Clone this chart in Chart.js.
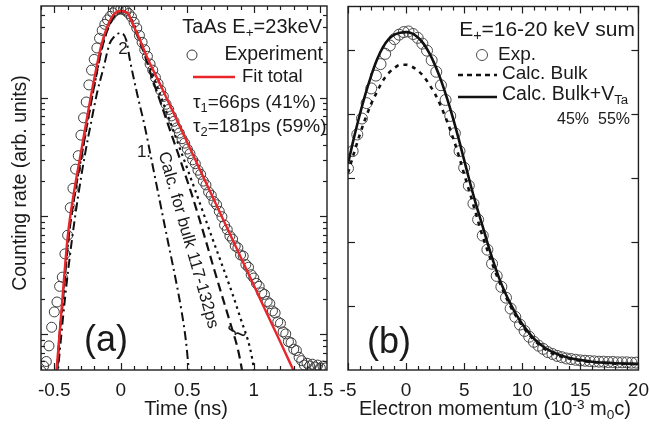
<!DOCTYPE html>
<html>
<head>
<meta charset="utf-8">
<script src="https://cdn.jsdelivr.net/npm/chart.js"></script>
<style>
  html, body { margin:0; padding:0; background:#fff; }
  body { width:650px; height:427px; overflow:hidden; font-family:"Liberation Sans", Arial, sans-serif; color:#1a1a1a; }
  #wrap { position:relative; width:650px; height:427px; }
  canvas { position:absolute; left:0; top:0; }
  .t { position:absolute; white-space:nowrap; line-height:1; color:#1a1a1a; }
  .t sub { font-size:0.68em; vertical-align:-0.28em; line-height:0; }
  .t sup { font-size:0.68em; vertical-align:0.45em; line-height:0; }
  svg { position:absolute; left:0; top:0; }
</style>
</head>
<body>
<div id="wrap">
  <canvas id="ca" width="650" height="427"></canvas>
  <canvas id="cb" width="650" height="427"></canvas>
  <svg id="sym" width="650" height="427"></svg>
</div>
<script>
// ---------------- Panel (a): positron lifetime spectrum ----------------
const timeExp = [-0.60,-0.58,-0.56,-0.54,-0.52,-0.50,-0.48,-0.46,-0.44,-0.42,
  -0.40,-0.38,-0.36,-0.34,-0.32,-0.30,-0.28,-0.26,-0.24,-0.22,
  -0.20,-0.18,-0.16,-0.14,-0.12,-0.10,-0.08,-0.06,-0.04,-0.02,
  0.00,0.02,0.04,0.06,0.08,0.10,0.12,0.14,0.16,0.18,
  0.20,0.22,0.24,0.26,0.28,0.30,0.32,0.34,0.36,0.38,
  0.40,0.42,0.44,0.46,0.48,0.50,0.52,0.54,0.56,0.58,
  0.60,0.62,0.64,0.66,0.68,0.70,0.72,0.74,0.76,0.78,
  0.80,0.82,0.84,0.86,0.88,0.90,0.92,0.94,0.96,0.98,
  1.00,1.02,1.04,1.06,1.08,1.10,1.12,1.14,1.16,1.18,
  1.20,1.22,1.24,1.26,1.28,1.30,1.32,1.34,1.36,1.38,
  1.40,1.42,1.44,1.46,1.48,1.50,1.52,1.54];
const countsExp = [4.9,5.4,5.9,8.0,11.5,15.5,18.8,25.5,30.5,48,
  69,118,172,250,325,485,680,925,1290,1720,
  2120,2650,3200,3730,4200,4580,4900,5250,5480,5610,
  5670,5590,5440,5180,4850,4360,3900,3380,2960,2560,
  2250,1940,1720,1490,1320,1160,1030,885,800,705,
  635,558,505,452,415,370,338,300,278,245,
  226,198,184,160,150,133,125,110,99,84,
  77,68,64,56,54,47,46,39,37,32,
  30,27,25.5,22.5,21.8,19,18.2,15.8,15.2,12.8,
  12.4,10.5,10.1,8.7,8.5,7.5,7.3,6.4,6.0,5.5,
  5.7,5.4,5.6,5.3,5.5,5.2,5.4,5.2];

const timeFit   = [-0.50,-0.45,-0.40,-0.35,-0.30,-0.25,-0.20,-0.15,-0.10,-0.05,0.00,0.05,0.10,0.15,0.20,0.30,0.40,0.50,0.60,0.70,0.80,0.90,1.00,1.10,1.20,1.30,1.35];
const countsFit = [2.95,14,66,165,344,721,1452,2704,4064,5130,5445,5236,3980,2979,2175,1274,731,420,240,138,79,45.4,26,14.9,8.6,4.9,3.7];

// curve "1" (dash-dot)
const timeC1   = [-0.48,-0.46,-0.42,-0.37,-0.32,-0.27,-0.22,-0.175,-0.13,-0.085,-0.05,0.00,0.04,0.07,0.126,0.179,0.232,0.292,0.353,0.413,0.458,0.489,0.511,0.53];
const countsC1 = [4,7,20,60,150,330,650,1150,1800,2865,3300,3550,3100,2050,1045,582,295,136,62,29,15.4,8.9,5,3];

// calculated bulk spectra 117 ps (dashed) and 132 ps (dotted)
const timeB117   = [-0.49,-0.46,-0.44,-0.39,-0.34,-0.29,-0.24,-0.19,-0.14,-0.09,-0.04,0.01,0.06,0.119,0.18,0.232,0.292,0.353,0.436,0.534,0.594,0.647,0.70,0.76,0.821,0.881,0.911,0.94];
const countsB117 = [3,10,17,70,170,350,730,1450,2700,4050,5100,5420,5000,3480,2300,1510,966,606,325,152,92,57.7,36,21.4,12.7,7.4,5,3.2];
const timeB132   = [-0.49,-0.46,-0.44,-0.39,-0.34,-0.29,-0.24,-0.19,-0.14,-0.09,-0.04,0.01,0.06,0.142,0.217,0.292,0.406,0.504,0.594,0.67,0.76,0.843,0.896,0.972,1.00,1.03];
const countsB132 = [3,10,17,70,170,350,730,1450,2700,4050,5100,5420,5100,3160,1862,1096,490,245,129,74,39,21.4,14.1,7.6,5.2,3.4];

// ---------------- Panel (b): Doppler broadening (electron momentum) ----------------
const momExp = [-5.0,-4.6,-4.2,-3.8,-3.4,-3.0,-2.6,-2.2,-1.8,-1.4,
  -1.0,-0.6,-0.2,0.2,0.6,1.0,1.4,1.8,2.2,2.6,
  3.0,3.4,3.8,4.2,4.6,5.0,5.4,5.8,6.2,6.6,
  7.0,7.4,7.8,8.2,8.6,9.0,9.4,9.8,10.2,10.6,
  11.0,11.4,11.8,12.2,12.6,13.0,13.4,13.8,14.2,14.6,
  15.0,15.4,15.8,16.2,16.6,17.0,17.4,17.8,18.2,18.6,
  19.0,19.4,19.8];
const intExp = [3.15,3.42,3.68,3.93,4.17,4.40,4.60,4.78,4.94,5.07,
  5.17,5.24,5.28,5.29,5.25,5.19,5.10,4.99,4.84,4.66,
  4.45,4.22,3.97,3.70,3.42,3.16,2.88,2.60,2.35,2.10,
  1.88,1.66,1.47,1.30,1.13,0.96,0.83,0.71,0.61,0.52,
  0.44,0.38,0.33,0.28,0.25,0.22,0.20,0.18,0.17,0.16,
  0.15,0.145,0.14,0.135,0.13,0.13,0.125,0.125,0.12,0.12,
  0.12,0.115,0.115];

const momCalc = [-5,-4.5,-4,-3.5,-3,-2.5,-2,-1.5,-1,-0.5,0,0.5,1,1.5,2,2.5,3,3.5,4,4.5,5,5.5,6,6.5,7,7.5,8,8.5,9,9.5,10,10.5,11,11.5,12,13,14,15,16,17,18,19,20];
const intBulkV = [3.22,3.62,3.98,4.31,4.60,4.85,5.04,5.17,5.24,5.27,5.28,5.26,5.20,5.10,4.95,4.76,4.53,4.26,3.96,3.63,3.28,2.93,2.60,2.30,1.99,1.70,1.44,1.22,1.03,0.86,0.72,0.60,0.49,0.41,0.34,0.25,0.19,0.155,0.13,0.115,0.105,0.10,0.095];
const intBulk  = [3.08,3.38,3.67,3.93,4.16,4.35,4.52,4.64,4.72,4.77,4.77,4.74,4.68,4.59,4.46,4.31,4.12,3.90,3.65,3.37,3.06,2.76,2.45,2.14,1.87,1.62,1.39,1.18,0.99,0.83,0.69,0.57,0.47,0.39,0.32,0.23,0.18,0.145,0.125,0.11,0.10,0.095,0.09];

// axis tick label values
const timeTickLabels = [-0.5, 0, 0.5, 1, 1.5];
const momTickLabels  = [-5, 0, 5, 10, 15, 20];

// ---------------------------------------------------------------
const pts = (xs, ys) => xs.map((x, i) => ({x: x, y: ys[i]}));
const near = (v, arr) => arr.some(a => Math.abs(a - v) < 1e-6);
const FONT = '"Liberation Sans", Arial, sans-serif';

const framePlugin = {
  id: 'frame',
  afterDatasetsDraw(chart, args, o) {
    const {ctx, chartArea: a, scales: {x, y}} = chart;
    ctx.save();
    ctx.strokeStyle = '#1e1e1e';
    ctx.lineWidth = 1.2;
    const seg = (x1, y1, x2, y2) => { ctx.beginPath(); ctx.moveTo(x1, y1); ctx.lineTo(x2, y2); ctx.stroke(); };
    const n0 = Math.ceil(x.min / o.xMinor - 1e-9), n1 = Math.floor(x.max / o.xMinor + 1e-9);
    for (let n = n0; n <= n1; n++) {
      const v = n * o.xMinor;
      const r = v / o.xMajor;
      const maj = Math.abs(r - Math.round(r)) < 1e-6;
      const px = Math.round(x.getPixelForValue(v)) + 0.5;
      const L = maj ? 7 : 4;
      seg(px, a.bottom, px, a.bottom - L);
      seg(px, a.top, px, a.top + L);
    }
    const yt = [];
    if (o.yLog) {
      for (let e = Math.floor(Math.log10(y.min)); e <= Math.ceil(Math.log10(y.max)); e++) {
        for (let m = 1; m <= 9; m++) {
          const v = m * Math.pow(10, e);
          if (v > y.min && v < y.max) yt.push([v, m === 1]);
        }
      }
    } else {
      for (let v = Math.ceil(y.min / o.yMajor) * o.yMajor; v < y.max; v += o.yMajor) if (v > y.min) yt.push([v, true]);
    }
    yt.forEach(([v, maj]) => {
      const py = Math.round(y.getPixelForValue(v)) + 0.5;
      const L = maj ? 7 : 4;
      seg(a.left, py, a.left + L, py);
      seg(a.right, py, a.right - L, py);
    });
    ctx.lineWidth = 1.4;
    ctx.strokeRect(a.left, a.top, a.right - a.left, a.bottom - a.top);
    ctx.restore();
  }
};

const lineDs = (data, color, width, dash, order) => ({
  data: data, borderColor: color, borderWidth: width, borderDash: dash,
  pointRadius: 0, cubicInterpolationMode: 'monotone', fill: false, order: order, clip: 0
});
const circleDs = (data, color, r) => ({
  data: data, showLine: false, pointStyle: 'circle', pointRadius: r, pointBorderWidth: 1,
  pointBorderColor: color, pointBackgroundColor: 'rgba(0,0,0,0)', borderColor: color, order: 9, clip: 0
});
const xAxis = (min, max, step, labels) => ({
  type: 'linear', min: min, max: max,
  grid: {display: false}, border: {display: false},
  ticks: {stepSize: step, includeBounds: false, autoSkip: false, maxRotation: 0, padding: 1, color: '#1a1a1a',
    font: {family: FONT, size: 19},
    callback: (v) => near(v, labels) ? String(Math.round(v * 10) / 10) : ''},
  afterFit: (s) => { s.height = 57; }
});

new Chart(document.getElementById('ca'), {
  type: 'line',
  data: { datasets: [
    circleDs(pts(timeExp, countsExp), '#3a3a3a', 5),
    lineDs(pts(timeC1, countsC1), '#111', 2, [9, 4, 2, 4], 4),
    lineDs(pts(timeB117, countsB117), '#111', 2.2, [9, 5], 3),
    lineDs(pts(timeB132, countsB132), '#111', 2.2, [2.5, 4], 2),
    lineDs(pts(timeFit, countsFit), '#e8262b', 2.4, [], 1)
  ]},
  options: {
    responsive: false, animation: false, devicePixelRatio: 1,
    layout: {padding: {left: 41, top: 5, right: 323, bottom: 0}},
    plugins: {legend: {display: false}, tooltip: {enabled: false},
      frame: {xMinor: 0.1, xMajor: 0.5, yLog: true}},
    scales: {
      x: xAxis(-0.6, 1.55, 0.5, timeTickLabels),
      y: {type: 'logarithmic', min: 5, max: 6000, display: false}
    }
  },
  plugins: [framePlugin]
});

new Chart(document.getElementById('cb'), {
  type: 'line',
  data: { datasets: [
    circleDs(pts(momExp, intExp), '#4a4a4a', 5.5),
    lineDs(pts(momCalc, intBulk), '#111', 2.6, [4, 5], 2),
    lineDs(pts(momCalc, intBulkV), '#111', 2.6, [], 1)
  ]},
  options: {
    responsive: false, animation: false, devicePixelRatio: 1,
    layout: {padding: {left: 348, top: 5, right: 10, bottom: 0}},
    plugins: {legend: {display: false}, tooltip: {enabled: false},
      frame: {xMinor: 1, xMajor: 5, yLog: false, yMajor: 1}},
    scales: {
      x: xAxis(-5, 20, 5, momTickLabels),
      y: {type: 'linear', min: 0, max: 5.68, display: false}
    }
  },
  plugins: [framePlugin]
});

// ---------------- text annotations (real HTML text) ----------------
const wrap = document.getElementById('wrap');
function label(html, x, baseline, size, align, extra) {
  const d = document.createElement('div');
  d.className = 't';
  d.innerHTML = html;
  d.style.fontSize = size + 'px';
  d.style.left = x + 'px';
  d.style.top = (baseline - 0.86 * size) + 'px';
  const tx = align === 'right' ? '-100%' : align === 'center' ? '-50%' : '0';
  d.style.transform = 'translateX(' + tx + ')' + (extra || '');
  wrap.appendChild(d);
  return d;
}
function rotLabel(html, cx, cy, size, deg) {
  const d = document.createElement('div');
  d.className = 't';
  d.innerHTML = html;
  d.style.fontSize = size + 'px';
  d.style.left = cx + 'px';
  d.style.top = cy + 'px';
  d.style.transform = 'translate(-50%,-50%) rotate(' + deg + 'deg)';
  wrap.appendChild(d);
  return d;
}

// axis titles
rotLabel('Counting rate (arb. units)', 20, 183, 19.5, -90);
label('Time (ns)', 186, 415, 20, 'center');
label('Electron momentum (10<sup>-3</sup> m<sub>0</sub>c)', 495, 415, 20, 'center');

// panel (a) legend
label('TaAs E<sub>+</sub>=23keV', 322, 33, 20, 'right');
label('Experiment', 323, 61, 19.5, 'right');
label('Fit total', 242, 83, 18.5, 'left');
label('&tau;<sub>1</sub>=66ps (41%)', 193, 108, 19, 'left');
label('&tau;<sub>2</sub>=181ps (59%)', 193, 132, 19, 'left');
label('(a)', 106, 352, 36, 'center');
label('1.', 144, 158, 17, 'center');
label('2', 123, 55, 17, 'center');
rotLabel('Calc. for bulk 117-132ps', 189, 240, 17, 74);
rotLabel('}', 238, 333, 20, 115);

// panel (b) legend
label('E<sub>+</sub>=16-20 keV sum', 635, 36, 21, 'right');
label('Exp.', 498, 60, 19, 'left');
label('Calc. Bulk', 502, 79, 19, 'left');
label('Calc. Bulk+V<sub>Ta</sub>', 502, 101, 19.5, 'left');
label('45%&nbsp;&nbsp;55%', 630, 125, 16, 'right');
label('(b)', 389, 354, 36, 'center');

// legend symbols
const svg = document.getElementById('sym');
svg.innerHTML =
  '<circle cx="192" cy="55" r="5" fill="none" stroke="#3a3a3a" stroke-width="1"/>' +
  '<line x1="193" y1="77" x2="235" y2="77" stroke="#e8262b" stroke-width="2.5"/>' +
  '<circle cx="482" cy="55" r="5.5" fill="none" stroke="#4a4a4a" stroke-width="1"/>' +
  '<line x1="458" y1="75" x2="497" y2="75" stroke="#111" stroke-width="2.6" stroke-dasharray="5,4"/>' +
  '<line x1="458" y1="97" x2="497" y2="97" stroke="#111" stroke-width="2.6"/>';
</script>
</body>
</html>
